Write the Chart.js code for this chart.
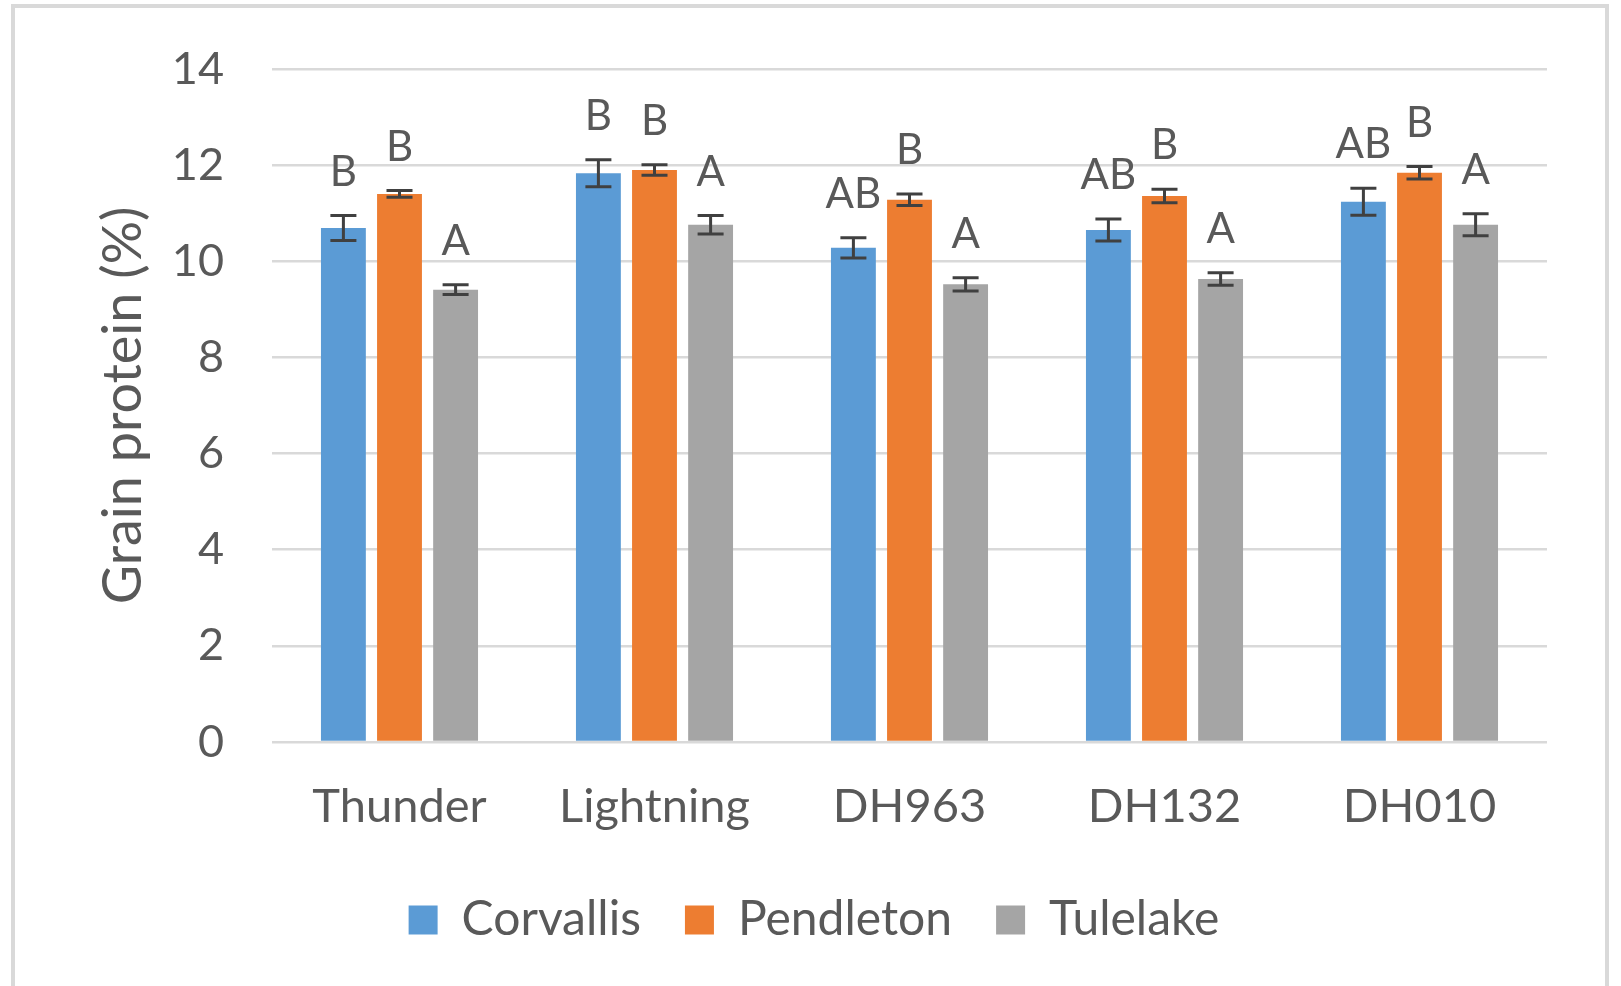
<!DOCTYPE html>
<html>
<head>
<meta charset="utf-8">
<script src="https://cdn.jsdelivr.net/npm/chart.js@4/dist/chart.umd.min.js"></script>
<style>
  html, body { margin: 0; padding: 0; background: #ffffff; }
  #wrap { width: 1621px; height: 986px; }
</style>
</head>
<body>
<div id="wrap"><canvas id="c" width="1621" height="986"></canvas></div>
<script>
const categories = ["Thunder", "Lightning", "DH963", "DH132", "DH010"];
const seriesNames = ["Corvallis", "Pendleton", "Tulelake"];
const corvallis = [10.69, 11.83, 10.28, 10.65, 11.24];
const pendleton = [11.40, 11.90, 11.28, 11.36, 11.84];
const tulelake = [9.41, 10.76, 9.52, 9.63, 10.76];
const corvallisErr = [0.26, 0.28, 0.21, 0.23, 0.28];
const pendletonErr = [0.07, 0.11, 0.12, 0.14, 0.13];
const tulelakeErr = [0.10, 0.19, 0.14, 0.13, 0.23];
const corvallisLetters = ["B", "B", "AB", "AB", "AB"];
const pendletonLetters = ["B", "B", "B", "B", "B"];
const tulelakeLetters = ["A", "A", "A", "A", "A"];
const yTicks = [0, 2, 4, 6, 8, 10, 12, 14];

const colors = ["#5B9BD5", "#ED7D31", "#A5A5A5"];
const errs = [corvallisErr, pendletonErr, tulelakeErr];
const letters = [corvallisLetters, pendletonLetters, tulelakeLetters];
const TEXT = "#595959";
const FONT = "Lato, 'Open Sans', sans-serif";

const framePlugin = {
  id: "frame",
  beforeDraw(chart) {
    const ctx = chart.ctx;
    ctx.save();
    ctx.fillStyle = "#ffffff";
    ctx.fillRect(0, 0, chart.width, chart.height);
    ctx.strokeStyle = "#d9d9d9";
    ctx.lineWidth = 4;
    ctx.strokeRect(13, 6, 1594, 1000);
    ctx.restore();
  }
};

const errorPlugin = {
  id: "errorbars",
  afterDatasetsDraw(chart) {
    const ctx = chart.ctx;
    const y = chart.scales.y;
    ctx.save();
    chart.data.datasets.forEach((ds, di) => {
      const meta = chart.getDatasetMeta(di);
      meta.data.forEach((bar, i) => {
        const v = ds.data[i];
        const e = errs[di][i];
        const yt = y.getPixelForValue(v + e);
        const yb = y.getPixelForValue(v - e);
        const x = bar.x;
        ctx.strokeStyle = "#404040";
        ctx.lineWidth = 3;
        ctx.beginPath();
        ctx.moveTo(x, yt); ctx.lineTo(x, yb);
        ctx.moveTo(x - 13, yt); ctx.lineTo(x + 13, yt);
        ctx.moveTo(x - 13, yb); ctx.lineTo(x + 13, yb);
        ctx.stroke();
        ctx.fillStyle = TEXT;
        ctx.font = "42px " + FONT;
        ctx.textAlign = "center";
        ctx.textBaseline = "alphabetic";
        ctx.fillText(letters[di][i], x, yt - 30);
      });
    });
    ctx.restore();
  }
};

const seriesValues = [corvallis, pendleton, tulelake];
const datasets = seriesNames.map((name, k) => ({
  label: name,
  data: seriesValues[k],
  backgroundColor: colors[k],
  borderWidth: 0,
  barPercentage: 0.80,
  categoryPercentage: 0.66
}));

new Chart(document.getElementById("c"), {
  type: "bar",
  data: { labels: categories, datasets },
  options: {
    responsive: false,
    animation: false,
    events: [],
    layout: { padding: { left: 81, right: 74, top: 69, bottom: 32 } },
    plugins: {
      legend: {
        position: "bottom",
        labels: {
          boxWidth: 29, boxHeight: 29, padding: 44,
          color: TEXT,
          font: { family: FONT, size: 48 }
        }
      },
      tooltip: { enabled: false },
      title: { display: false }
    },
    scales: {
      x: {
        grid: { display: false, drawTicks: false },
        border: { display: false },
        ticks: { color: TEXT, font: { family: FONT, size: 47 }, padding: 37, maxRotation: 0 },
        afterFit(s) { s.height = 110; }
      },
      y: {
        min: 0, max: 14,
        afterBuildTicks(s) { s.ticks = yTicks.map(v => ({ value: v })); },
        grid: { color: "#d9d9d9", lineWidth: 2.5, drawTicks: false },
        border: { display: false },
        ticks: { color: TEXT, font: { family: FONT, size: 45 }, padding: 48 },
        title: {
          display: true, text: "Grain protein (%)", color: TEXT,
          font: { family: FONT, size: 54 }, padding: { top: 10, bottom: 0 }
        },
        afterFit(s) { s.width = 191; s.paddingTop = 0; s.paddingBottom = 0; }
      }
    }
  },
  plugins: [framePlugin, errorPlugin]
});
</script>
</body>
</html>
